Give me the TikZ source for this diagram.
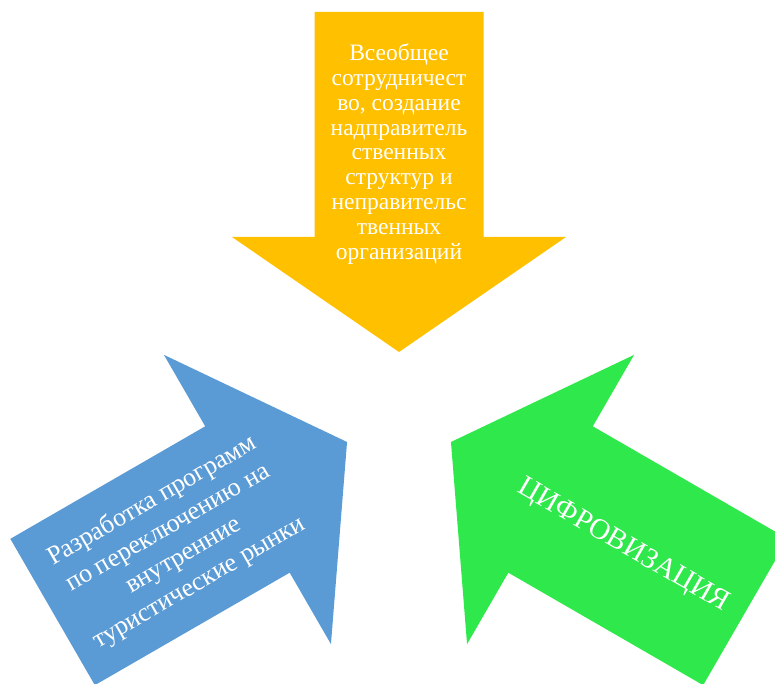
\documentclass[tikz,border=0pt]{standalone}
\usepackage{fontspec}
\setmainfont{Liberation Serif}
\usetikzlibrary{calc}
\definecolor{arrYellow}{HTML}{FFC000}
\definecolor{arrBlue}{HTML}{5B9BD5}
\definecolor{arrGreen}{HTML}{2FE84B}
\tikzset{
  arrowshape/.pic={
    \fill[pic actions] (-400,84.5) -- (-175,84.5) -- (-175,167) -- (-60,0)
      -- (-175,-167) -- (-175,-84.5) -- (-400,-84.5) -- cycle;
  },
  arrowtext/.style={text=white, align=center, inner sep=0pt}
}
\begin{document}
\begin{tikzpicture}[x=1pt,y=1pt]
\useasboundingbox (0,0) rectangle (775,684);
\clip (0,0) rectangle (775,684);
\coordinate (C) at (399,272);
% arrows
\pic[fill=arrYellow, shift={(C)}, rotate=-90] {arrowshape};
\pic[fill=arrBlue, shift={(C)}, rotate=30] {arrowshape};
\pic[fill=arrGreen, shift={(C)}, rotate=150] {arrowshape};
% texts
\node[arrowtext, font=\fontsize{23.5}{24.8}\selectfont] (topText)
  at ($(C)+(0,258)$) {Всеобщее\\сотрудничест\\во, создание\\надправитель\\ственных\\структур и\\неправительс\\твенных\\организаций};
\node[arrowtext, rotate=30, font=\fontsize{26}{31.5}\selectfont] (blueText)
  at ($(C)+(30:-260)+(2,0)$) {Разработка программ\\по переключению на\\внутренние\\туристические рынки};
\node[arrowtext, rotate=-30, font=\fontsize{29}{35}\selectfont] (greenText)
  at ($(C)+(150:-260)+(-1,-4)$) {ЦИФРОВИЗАЦИЯ};
\end{tikzpicture}
\end{document}
